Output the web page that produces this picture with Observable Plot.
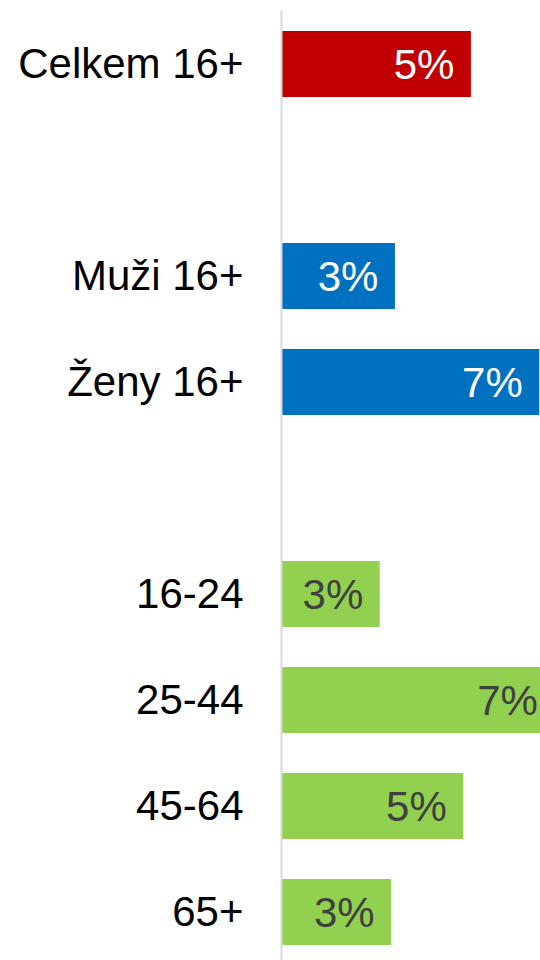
<!DOCTYPE html>
<html>
<head>
<meta charset="utf-8">
<script src="https://cdn.jsdelivr.net/npm/d3@7"></script>
<script src="https://cdn.jsdelivr.net/npm/@observablehq/plot@0.6"></script>
<style>
  html, body { margin: 0; padding: 0; background: #ffffff; }
  body { width: 540px; height: 960px; overflow: hidden; }
  svg { font-family: "Liberation Sans", Arial, sans-serif; }
</style>
</head>
<body>
<div id="chart"></div>
<script>
const categories = ["Celkem 16+", "Muži 16+", "Ženy 16+", "16-24", "25-44", "45-64", "65+"];
const values = [5.0, 3.0, 6.8, 2.6, 7.2, 4.8, 2.9];
const groups = ["total", "gender", "gender", "age", "age", "age", "age"];
const valueLabels = ["5%", "3%", "7%", "3%", "7%", "5%", "3%"];
const rowOrder = ["Celkem 16+", "gap1", "Muži 16+", "Ženy 16+", "gap2", "16-24", "25-44", "45-64", "65+"];
const groupNames = ["total", "gender", "age"];
const groupColors = ["#C00000", "#0070C0", "#92D050"];
const labelColors = { total: "#ffffff", gender: "#ffffff", age: "#404040" };

const data = categories.map((c, i) => ({ cat: c, value: values[i], group: groups[i], label: valueLabels[i] }));

const chart = Plot.plot({
  width: 540,
  height: 960,
  marginLeft: 281,
  marginRight: 0,
  marginTop: 10,
  marginBottom: 0,
  style: { fontFamily: "'Liberation Sans', Arial, sans-serif", background: "#ffffff" },
  x: { domain: [0, 6.82], axis: null },
  y: { domain: rowOrder, range: [11, 965], paddingInner: 0.377, paddingOuter: 0.1885, axis: null },
  color: { domain: groupNames, range: groupColors },
  marks: [
    Plot.barX(data, { y: "cat", x: "value", fill: "group" }),
    Plot.ruleX([0], { stroke: "#d9d9d9", strokeWidth: 2 }),
    Plot.text(data, {
      y: "cat", x: "value", text: "label",
      textAnchor: "end", dx: -17, dy: 1,
      fontSize: 42,
      fill: d => labelColors[d.group]
    }),
    Plot.axisY({
      tickSize: 0,
      tickPadding: 38,
      fontSize: 42,
      fill: "#000000",
      label: null,
      tickFormat: d => d.startsWith("gap") ? "" : d
    })
  ]
});

document.getElementById("chart").appendChild(chart);
</script>
</body>
</html>
